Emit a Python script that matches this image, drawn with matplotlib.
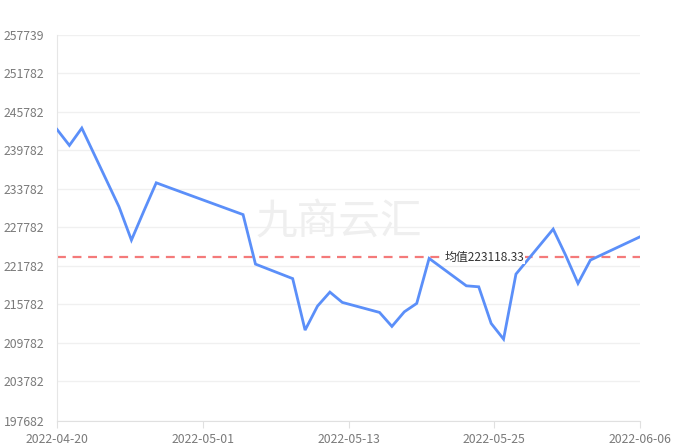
import matplotlib
matplotlib.use("Agg")
import matplotlib.pyplot as plt
import matplotlib.dates as mdates
import numpy as np
import pandas as pd

plt.rcParams['font.family'] = ['Noto Sans CJK SC', 'DejaVu Sans']

dates = ["2022-04-20", "2022-04-21", "2022-04-22", "2022-04-25", "2022-04-26",
         "2022-04-27", "2022-04-28", "2022-04-29", "2022-05-05", "2022-05-06",
         "2022-05-09", "2022-05-10", "2022-05-11", "2022-05-12", "2022-05-13",
         "2022-05-16", "2022-05-17", "2022-05-18", "2022-05-19", "2022-05-20",
         "2022-05-23", "2022-05-24", "2022-05-25", "2022-05-26", "2022-05-27",
         "2022-05-30", "2022-05-31", "2022-06-01", "2022-06-02", "2022-06-06"]
values = [243033, 240540, 243236, 230974, 225786,
          230304, 234713, 233997, 229759, 222047,
          219788, 211764, 215503, 217684, 216080,
          214522, 212341, 214615, 215924, 222935,
          218666, 218510, 212808, 210362, 220489,
          227500, 223449, 219040, 222670, 226300]
mean_value = 223118.33
mean_label = "均值223118.33"
y_ticks = [197682, 203782, 209782, 215782, 221782, 227782, 233782,
           239782, 245782, 251782, 257739]
watermark = "九商云汇"

x = mdates.date2num(pd.to_datetime(dates))

fig = plt.figure(figsize=(6.77, 4.47), dpi=100)
ax = fig.add_axes([57/677, 1 - 420.5/447, (640 - 57)/677, (420.5 - 35)/447])

ax.set_xlim(x[0], x[-1])
ax.set_ylim(y_ticks[0], y_ticks[-1])

# watermark
ax.text((339 - 57)/583, 1 - (223 - 35)/385.5, watermark, transform=ax.transAxes,
        fontsize=30, color='#efefef', ha='center', va='center', zorder=0)

ax.set_yticks(y_ticks)
ax.set_yticklabels([str(v) for v in y_ticks])
ax.grid(axis='y', color='#f0f0f0', linewidth=1, zorder=0)
ax.grid(axis='x', visible=False)

xt = [x[0] + k * (x[-1] - x[0]) / 4 for k in range(5)]
ax.set_xticks(xt)
ax.set_xticklabels([mdates.num2date(t).strftime('%Y-%m-%d') for t in xt])

ax.plot(x, values, color='#5b8ff9', linewidth=2, zorder=3, solid_joinstyle='miter')
ax.axhline(mean_value, color='#f47a7a', linewidth=1.6, linestyle=(0, (4, 3)), zorder=2)
ax.text((484.5 - 57)/583, mean_value, mean_label, transform=ax.get_yaxis_transform(),
        fontsize=8.6, color='#333333', ha='center', va='center', zorder=4,
        bbox=dict(facecolor='white', edgecolor='none', pad=0.5))

for s in ['top', 'right']:
    ax.spines[s].set_visible(False)
ax.spines['left'].set_color('#e6e6e6')
ax.spines['bottom'].set_color('#e0e0e0')
ax.tick_params(axis='y', length=0, pad=9, labelsize=8.8, labelcolor='#7a7a7a')
ax.tick_params(axis='x', length=5, color='#e0e0e0', pad=4, labelsize=8.8, labelcolor='#7a7a7a')

fig.savefig('out.png', dpi=100)
